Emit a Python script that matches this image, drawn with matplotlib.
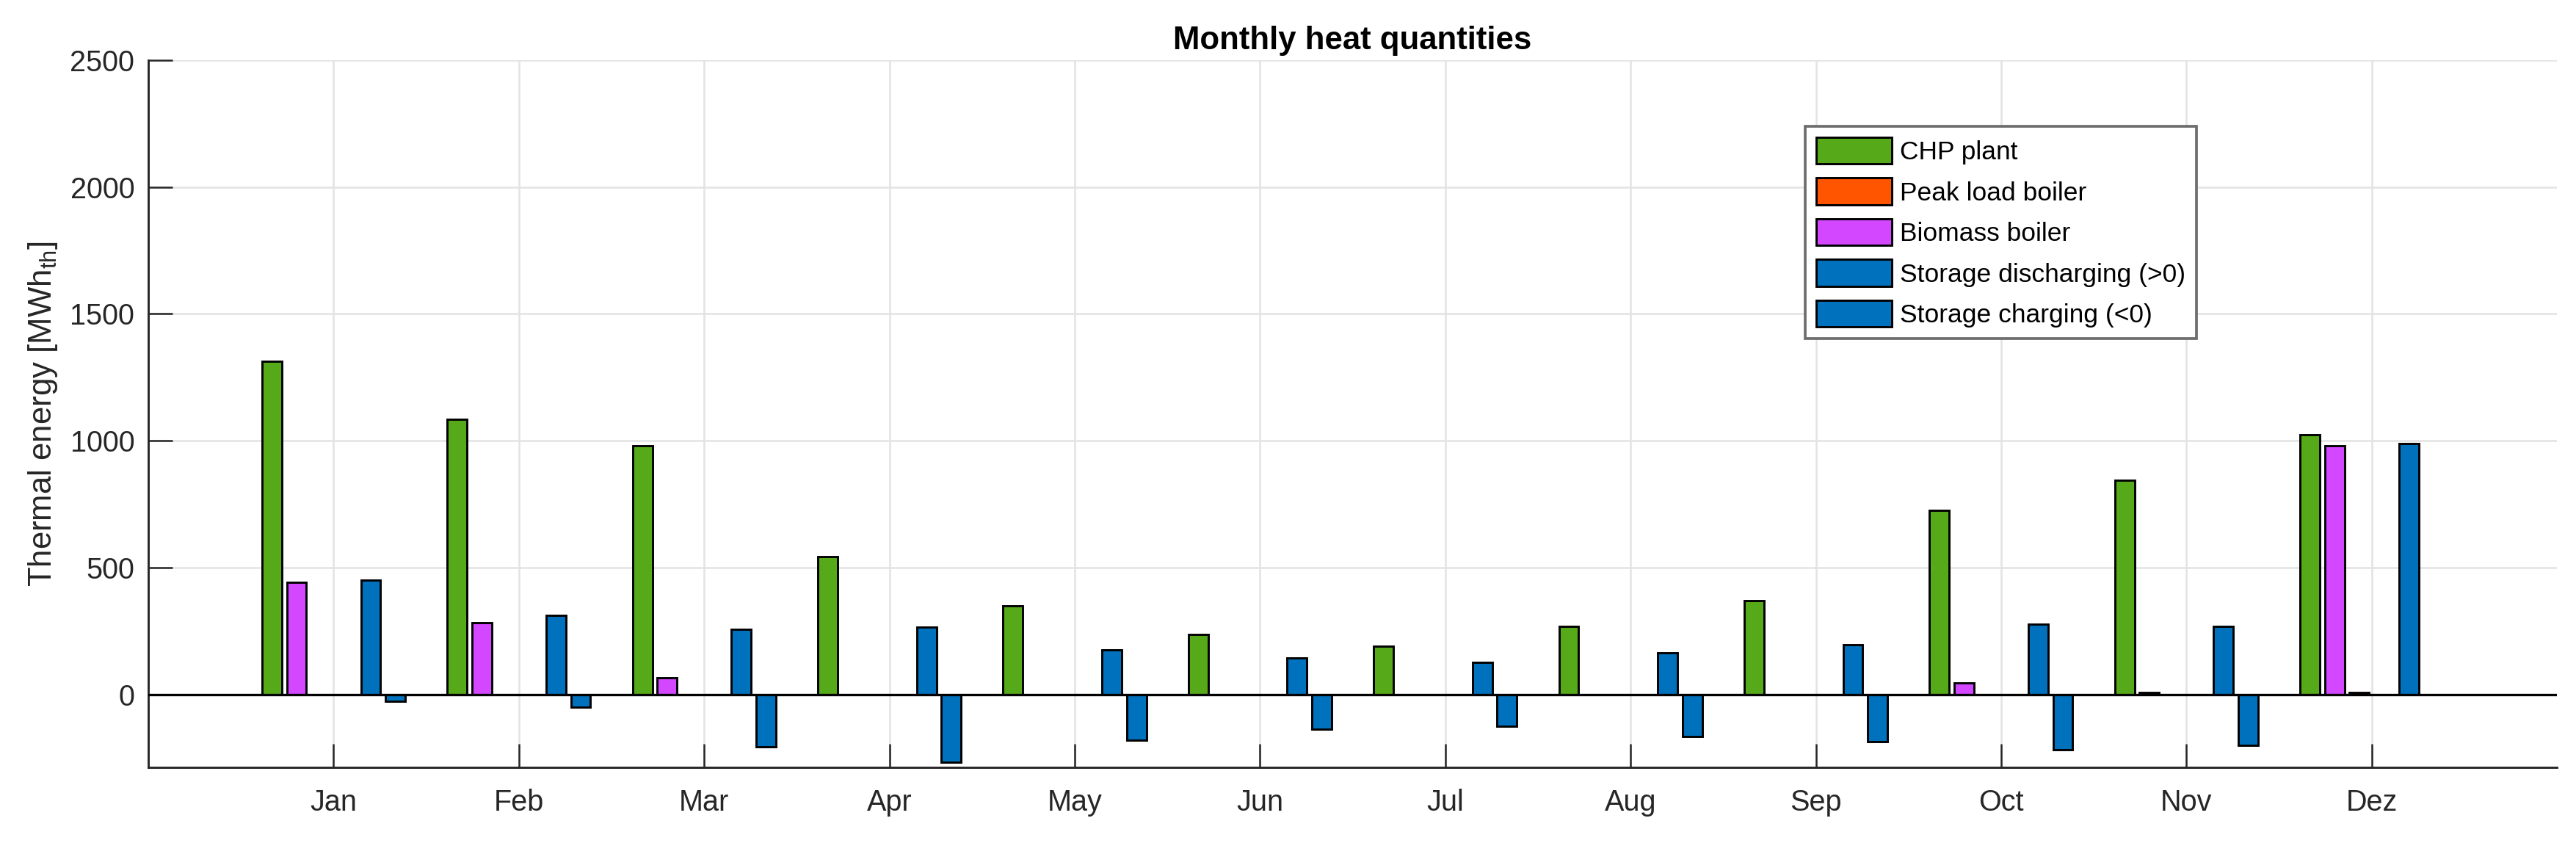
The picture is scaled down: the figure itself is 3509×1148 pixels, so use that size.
import matplotlib
matplotlib.use('Agg')
import matplotlib.pyplot as plt
import numpy as np

# monthly values in MWh_th
months = ['Jan', 'Feb', 'Mar', 'Apr', 'May', 'Jun', 'Jul', 'Aug', 'Sep', 'Oct', 'Nov', 'Dez']
chp = [1312, 1083, 980, 543, 348, 235, 191, 267, 370, 725, 844, 1023]
biomass = [441, 282, 66, 0, 0, 0, 0, 0, 0, 45, 8, 980]
peak = [0, 0, 0, 0, 0, 0, 0, 0, 0, 0, 0, 8]
discharge = [451, 310, 255, 266, 174, 142, 125, 163, 196, 276, 268, 990]
charge = [-28, -50, -208, -267, -180, -137, -126, -165, -186, -219, -202, 0]

green = '#56AA1A'
orange = '#FF5500'
purple = '#D247FF'
blue = '#0072BD'

plt.rcParams['font.family'] = ['Liberation Sans', 'DejaVu Sans']
plt.rcParams['mathtext.fontset'] = 'custom'
plt.rcParams['mathtext.rm'] = 'Liberation Sans'

fig = plt.figure(figsize=(3509/300, 1148/300), dpi=300)
ax = fig.add_axes([0.0576, 0.0897, 0.9350, 0.8389])

x = np.arange(1, 13)
nslot = 6
slot = 0.8 / nslot
bw = slot * 0.8

# (values, colour, label, slot index) - slot 4 stays empty like in the original
series = [
    (chp, green, 'CHP plant', 0),
    (biomass, purple, 'Biomass boiler', 1),
    (peak, orange, 'Peak load boiler', 2),
    (discharge, blue, 'Storage discharging (>0)', 4),
    (charge, blue, 'Storage charging (<0)', 5),
]
handles = {}
for vals, col, lab, k in series:
    off = (k - (nslot - 1) / 2) * slot
    b = ax.bar(x + off, vals, bw, color=col, edgecolor='black', linewidth=0.7,
               label=lab, zorder=3)
    handles[lab] = b

ax.axhline(0, color='black', linewidth=0.8, zorder=4)

ax.set_xlim(0, 13)
ax.set_ylim(-288, 2500)
ax.set_xticks(x)
ax.set_xticklabels(months)
ax.set_yticks(range(0, 2501, 500))

ax.grid(True, color='#E3E3E3', linewidth=0.6, zorder=0)
ax.set_axisbelow(True)
ax.spines['top'].set_visible(False)
ax.spines['right'].set_visible(False)
for s in ['left', 'bottom']:
    ax.spines[s].set_color('#262626')
    ax.spines[s].set_linewidth(0.7)
ax.tick_params(axis='both', direction='in', length=7.8, width=0.6,
               color='#262626', labelcolor='#262626', labelsize=9.5)
ax.tick_params(axis='x', pad=7)
ax.tick_params(axis='y', pad=4.5)

ax.set_title('Monthly heat quantities', fontsize=10.5, fontweight='bold', pad=3.6)
ax.set_ylabel('Thermal energy [MWh$_{\\mathrm{th}}$]', fontsize=10.5, color='#262626')
ax.yaxis.set_label_coords(-0.037, 0.5)

order = ['CHP plant', 'Peak load boiler', 'Biomass boiler',
         'Storage discharging (>0)', 'Storage charging (<0)']
leg = ax.legend([handles[o] for o in order], order, loc='upper left',
                bbox_to_anchor=(0.688, 0.9065), fontsize=8.5, fancybox=False,
                edgecolor='#6E6E6E', framealpha=1, handlelength=2.9,
                handleheight=1.2, labelspacing=0.52, handletextpad=0.3,
                borderpad=0.42, borderaxespad=0)
leg.get_frame().set_linewidth(0.9)

plt.savefig('out.png', dpi=300)
